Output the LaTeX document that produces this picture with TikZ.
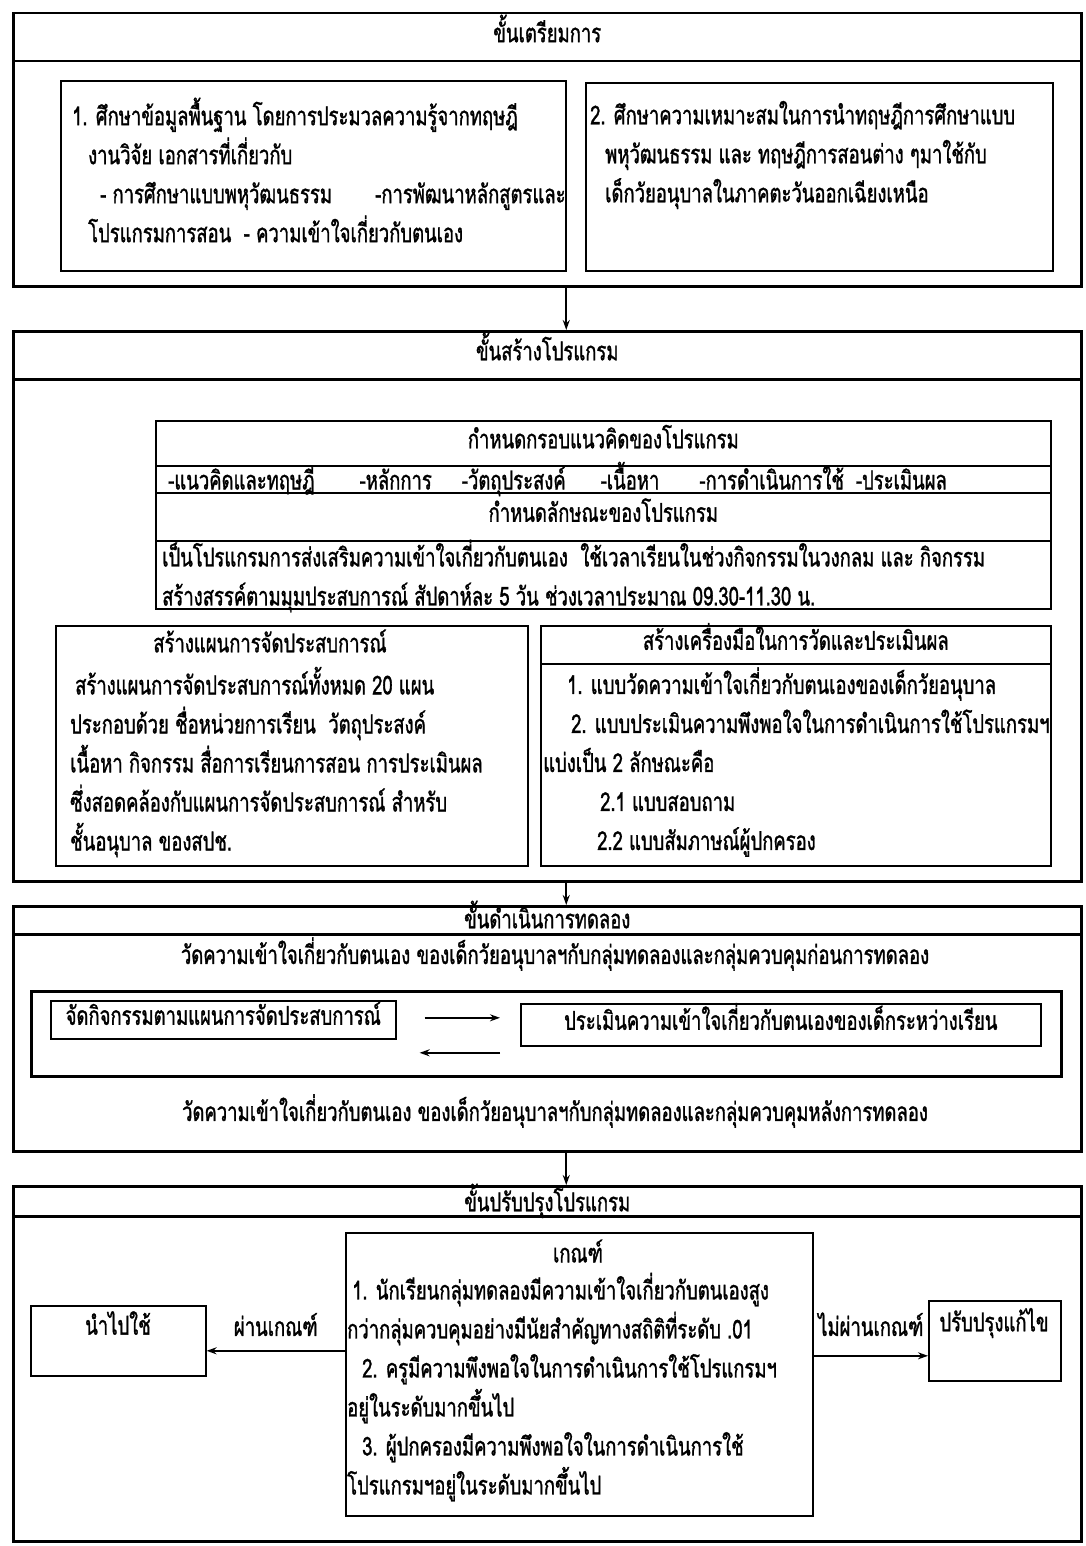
\documentclass[tikz,border=0pt]{standalone}
\usepackage{fontspec}
\newfontfamily\thaifont[Script=Thai, FakeStretch=0.71, FakeBold=1.2]{Loma}
\usepackage{tikz}
\usetikzlibrary{
  positioning,
  arrows.meta
}

\tikzset{
	stage/.style={draw, line width=2.5pt, anchor=north west, inner sep=0pt},
	panel/.style={draw, line width=1.6pt, anchor=north west, inner sep=0pt},
	cell/.style={panel, text height=15pt, text depth=5pt},
	thtext/.style={font=\thaifont\fontsize{26}{39}\selectfont, align=left, inner sep=0pt},
	flow/.style={-{Stealth[length=10pt, width=7pt]}, line width=1.6pt}
}

\begin{document}
\begin{tikzpicture}[x=1pt, y=-1pt, every node/.append style={thtext}]
	\useasboundingbox (0,0) rectangle (1085,1546);

	% stage 1
	\node[stage, cell, line width=2.5pt, minimum width=1068pt, minimum height=48pt] (prepTitle) at (12,12) {ขั้นเตรียมการ};
	\node[stage, minimum width=1068pt, minimum height=225pt] (prepBody) at (12,60) {};
	\node[panel, minimum width=505pt, minimum height=190pt] (studyA) at (60,80) {};
	\node[anchor=west] (studyAText) at (72,170) {1. ศึกษาข้อมูลพื้นฐาน โดยการประมวลความรู้จากทฤษฎี\\
		\hspace*{16pt}งานวิจัย เอกสารที่เกี่ยวกับ\\
		\hspace*{28pt}\makebox[275pt][l]{- การศึกษาแบบพหุวัฒนธรรม}-การพัฒนาหลักสูตรและ\\
		\hspace*{16pt}โปรแกรมการสอน~ - ความเข้าใจเกี่ยวกับตนเอง};
	\node[panel, minimum width=467pt, minimum height=188pt] (studyB) at (585,82) {};
	\node[anchor=west] (studyBText) at (590,155) {2. ศึกษาความเหมาะสมในการนำทฤษฎีการศึกษาแบบ\\
		\hspace*{15pt}พหุวัฒนธรรม และ ทฤษฎีการสอนต่าง ๆมาใช้กับ\\
		\hspace*{15pt}เด็กวัยอนุบาลในภาคตะวันออกเฉียงเหนือ};

	% stage 2
	\node[stage, cell, line width=2.5pt, minimum width=1068pt, minimum height=48pt] (buildTitle) at (12,330) {ขั้นสร้างโปรแกรม};
	\node[stage, minimum width=1068pt, minimum height=502pt] (buildBody) at (12,378) {};
	\node[cell, minimum width=895pt, minimum height=45pt] (frameHead) at (155,420) {กำหนดกรอบแนวคิดของโปรแกรม};
	\node[panel, minimum width=895pt, minimum height=27pt] (frameItems) at (155,465) {};
	\node[anchor=west] (frameItemsText) at (168,479) {-แนวคิดและทฤษฎี\hspace{45pt}-หลักการ\hspace{30pt}-วัตถุประสงค์\hspace{35pt}-เนื้อหา\hspace{40pt}-การดำเนินการใช้\hspace{12pt}-ประเมินผล};
	\node[cell, minimum width=895pt, minimum height=48pt] (traitHead) at (155,492) {กำหนดลักษณะของโปรแกรม};
	\node[panel, minimum width=895pt, minimum height=68pt] (traitBody) at (155,540) {};
	\node[anchor=west] (traitText) at (162,576) {เป็นโปรแกรมการส่งเสริมความเข้าใจเกี่ยวกับตนเอง~ ใช้เวลาเรียนในช่วงกิจกรรมในวงกลม และ กิจกรรม\\
		สร้างสรรค์ตามมุมประสบการณ์ สัปดาห์ละ 5 วัน ช่วงเวลาประมาณ 09.30-11.30 น.};

	\node[panel, minimum width=472pt, minimum height=240pt] (planBox) at (55,625) {};
	\node (planHead) at (270,641) {สร้างแผนการจัดประสบการณ์};
	\node[anchor=west] (planText) at (70,762) {\hspace*{5pt}สร้างแผนการจัดประสบการณ์ทั้งหมด 20 แผน\\
		ประกอบด้วย ชื่อหน่วยการเรียน~ วัตถุประสงค์\\
		เนื้อหา กิจกรรม สื่อการเรียนการสอน การประเมินผล\\
		ซึ่งสอดคล้องกับแผนการจัดประสบการณ์ สำหรับ\\
		ชั้นอนุบาล ของสปช.};
	\node[cell, minimum width=510pt, minimum height=38pt] (toolHead) at (540,625) {สร้างเครื่องมือในการวัดและประเมินผล};
	\node[panel, minimum width=510pt, minimum height=202pt] (toolBody) at (540,663) {};
	\node[anchor=west] (toolText) at (543,762) {\hspace*{24pt}1. แบบวัดความเข้าใจเกี่ยวกับตนเองของเด็กวัยอนุบาล\\
		\hspace*{28pt}2. แบบประเมินความพึงพอใจในการดำเนินการใช้โปรแกรมฯ\\
		แบ่งเป็น 2 ลักษณะคือ\\
		\hspace*{57pt}2.1 แบบสอบถาม\\
		\hspace*{54pt}2.2 แบบสัมภาษณ์ผู้ปกครอง};

	% stage 3
	\node[stage, cell, text height=21pt, line width=2.5pt, minimum width=1068pt, minimum height=28pt] (runTitle) at (12,905) {ขั้นดำเนินการทดลอง};
	\node[stage, minimum width=1068pt, minimum height=217pt] (runBody) at (12,933) {};
	\node (runPre) at (555,954) {วัดความเข้าใจเกี่ยวกับตนเอง ของเด็กวัยอนุบาลฯกับกลุ่มทดลองและกลุ่มควบคุมก่อนการทดลอง};
	\node[stage, minimum width=1030pt, minimum height=85pt] (loopBox) at (30,990) {};
	\node[cell, minimum width=345pt, minimum height=38pt] (activity) at (50,1000) {จัดกิจกรรมตามแผนการจัดประสบการณ์};
	\node[cell, minimum width=520pt, minimum height=42pt] (assess) at (520,1003) {ประเมินความเข้าใจเกี่ยวกับตนเองของเด็กระหว่างเรียน};
	\draw[flow] ([xshift=28pt, yshift=2pt]activity.east) -- ([xshift=-20pt, yshift=7pt]assess.west);
	\draw[flow] ([xshift=-20pt, yshift=-28pt]assess.west) -- ([xshift=23pt, yshift=-33pt]activity.east);
	\node (runPost) at (555,1111) {วัดความเข้าใจเกี่ยวกับตนเอง ของเด็กวัยอนุบาลฯกับกลุ่มทดลองและกลุ่มควบคุมหลังการทดลอง};

	% stage 4
	\node[stage, cell, text height=25pt, line width=2.5pt, minimum width=1068pt, minimum height=30pt] (fixTitle) at (12,1185) {ขั้นปรับปรุงโปรแกรม};
	\node[stage, minimum width=1068pt, minimum height=325pt] (fixBody) at (12,1215) {};
	\node[panel, minimum width=467pt, minimum height=283pt] (criteria) at (345,1232) {};
	\node (criteriaHead) at (578,1251) {เกณฑ์};
	\node[anchor=west] (criteriaText) at (347,1387) {\hspace*{5pt}1. นักเรียนกลุ่มทดลองมีความเข้าใจเกี่ยวกับตนเองสูง\\
		กว่ากลุ่มควบคุมอย่างมีนัยสำคัญทางสถิติที่ระดับ .01\\
		\hspace*{15pt}2. ครูมีความพึงพอใจในการดำเนินการใช้โปรแกรมฯ\\
		อยู่ในระดับมากขึ้นไป\\
		\hspace*{15pt}3. ผู้ปกครองมีความพึงพอใจในการดำเนินการใช้\\
		โปรแกรมฯอยู่ในระดับมากขึ้นไป};
	\node[panel, minimum width=175pt, minimum height=70pt] (useBox) at (30,1305) {};
	\node (useText) at (118,1323) {นำไปใช้};
	\node[panel, minimum width=132pt, minimum height=80pt] (reviseBox) at (928,1300) {};
	\node (reviseText) at (994,1323) {ปรับปรุงแก้ไข};
	\draw[flow] ([yshift=23.5pt]criteria.west) -- ([yshift=-10pt]useBox.east) node[midway, above=14pt] (passLabel) {ผ่านเกณฑ์};
	\draw[flow] ([yshift=18.5pt]criteria.east) -- ([yshift=-15pt]reviseBox.west) node[midway, above=19pt] (failLabel) {ไม่ผ่านเกณฑ์};

	% links between stages
	\draw[flow] ([xshift=19pt]prepBody.south) -- ([xshift=19pt]buildTitle.north);
	\draw[flow] ([xshift=19pt]buildBody.south) -- ([xshift=19pt]runTitle.north);
	\draw[flow] ([xshift=19pt]runBody.south) -- ([xshift=19pt]fixTitle.north);

\end{tikzpicture}
\end{document}
